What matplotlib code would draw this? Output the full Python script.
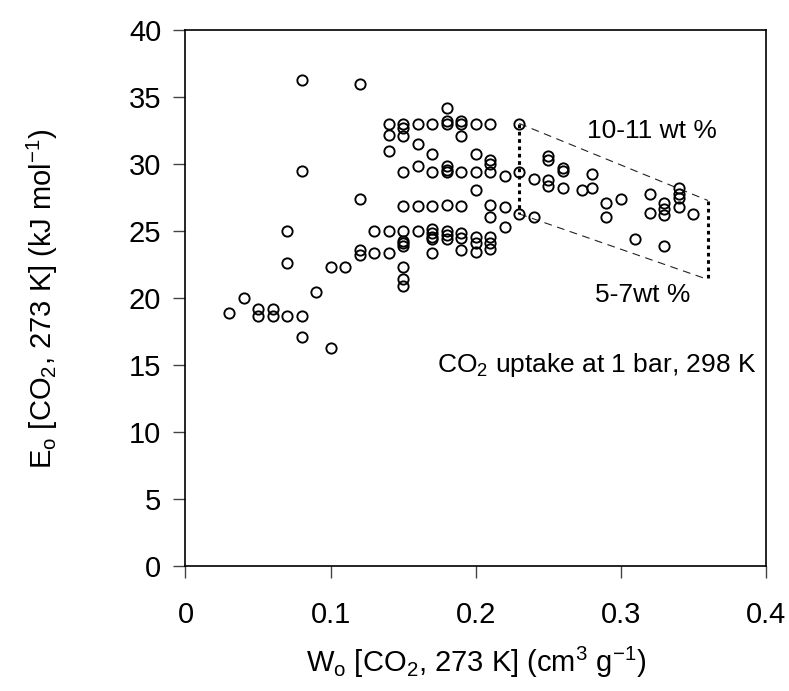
import matplotlib
matplotlib.use("Agg")
import matplotlib.pyplot as plt

plt.rcParams['font.family'] = ['Liberation Sans', 'DejaVu Sans']
plt.rcParams['mathtext.fontset'] = 'custom'
plt.rcParams['mathtext.rm'] = 'Liberation Sans'
plt.rcParams['mathtext.it'] = 'Liberation Sans:italic'

# W0 (cm3/g) and E0 (kJ/mol) pairs
w0 = [0.03, 0.04, 0.05, 0.05, 0.06, 0.06,
      0.07, 0.07, 0.07,
      0.08, 0.08, 0.08, 0.08,
      0.09, 0.10, 0.10, 0.11,
      0.12, 0.12, 0.12, 0.12,
      0.13, 0.13,
      0.14, 0.14, 0.14, 0.14, 0.14,
      0.15, 0.15, 0.15, 0.15, 0.15, 0.15, 0.15, 0.15, 0.15, 0.15, 0.15, 0.15,
      0.16, 0.16, 0.16, 0.16, 0.16,
      0.17, 0.17, 0.17, 0.17, 0.17, 0.17, 0.17, 0.17, 0.17,
      0.18, 0.18, 0.18, 0.18, 0.18, 0.18, 0.18, 0.18, 0.18, 0.18,
      0.19, 0.19, 0.19, 0.19, 0.19, 0.19, 0.19, 0.19,
      0.20, 0.20, 0.20, 0.20, 0.20, 0.20, 0.20,
      0.21, 0.21, 0.21, 0.21, 0.21, 0.21, 0.21, 0.21, 0.21,
      0.22, 0.22, 0.22,
      0.23, 0.23, 0.23,
      0.24, 0.24,
      0.25, 0.25, 0.25, 0.25,
      0.26, 0.26, 0.26,
      0.273,
      0.28, 0.28,
      0.29, 0.29,
      0.30, 0.31,
      0.32, 0.32,
      0.33, 0.33, 0.33, 0.33,
      0.34, 0.34, 0.34, 0.34,
      0.35]
e0 = [18.9, 20.0, 19.2, 18.7, 19.2, 18.7,
      25.0, 22.6, 18.7,
      36.3, 29.5, 18.7, 17.1,
      20.5, 22.3, 16.3, 22.3,
      36.0, 27.4, 23.6, 23.2,
      25.0, 23.4,
      33.05, 32.2, 31.0, 25.0, 23.4,
      33.05, 32.7, 32.1, 29.4, 26.9, 25.0, 24.3, 24.1, 23.9, 22.3, 21.4, 20.9,
      33.05, 31.5, 29.85, 26.9, 25.0,
      33.05, 30.8, 29.4, 26.9, 25.2, 24.9, 24.6, 24.4, 23.4,
      34.2, 33.25, 33.05, 29.9, 29.55, 29.4, 27.0, 25.05, 24.75, 24.4,
      33.25, 33.05, 32.1, 29.4, 26.9, 24.85, 24.5, 23.6,
      33.05, 30.8, 29.4, 28.05, 24.6, 24.15, 23.45,
      33.05, 30.3, 30.05, 29.4, 27.0, 26.1, 24.6, 24.1, 23.7,
      29.1, 26.8, 25.3,
      33.05, 29.4, 26.3,
      28.9, 26.1,
      30.6, 30.3, 28.8, 28.4,
      29.7, 29.5, 28.2,
      28.1,
      29.3, 28.25,
      27.1, 26.1,
      27.4, 24.4,
      27.8, 26.4,
      27.1, 26.7, 26.2, 23.9,
      28.2, 27.75, 27.45, 26.85,
      26.3]

# guide lines
upper_x = [0.23, 0.36]
upper_y = [33.05, 27.3]
lower_x = [0.23, 0.36]
lower_y = [26.3, 21.4]

x_ticks = [0, 0.1, 0.2, 0.3, 0.4]
x_tick_labels = ['0', '0.1', '0.2', '0.3', '0.4']
y_ticks = [0, 5, 10, 15, 20, 25, 30, 35, 40]

fig = plt.figure(figsize=(7.89, 6.91), dpi=100)
ax = fig.add_axes([0.2351, 0.1809, 0.9708 - 0.2351, 0.9559 - 0.1809])

ax.plot(upper_x, upper_y, color='#222222', lw=0.8, linestyle=(0, (7, 5)), zorder=1)
ax.plot(lower_x, lower_y, color='#222222', lw=0.8, linestyle=(0, (7, 5)), zorder=1)
ax.plot([upper_x[0], lower_x[0]], [upper_y[0], lower_y[0]], color='black', lw=2.2,
        linestyle=(0, (1.2, 1.2)), zorder=1)
ax.plot([upper_x[1], lower_x[1]], [upper_y[1], lower_y[1]], color='black', lw=2.2,
        linestyle=(0, (1.2, 1.2)), zorder=1)

ax.plot(w0, e0, linestyle='none', marker='o', ms=7.4, mfc='none', mec='black',
        mew=1.35, zorder=3)

ax.set_xlim(0, 0.4)
ax.set_ylim(0, 40)
ax.set_xticks(x_ticks)
ax.set_xticklabels(x_tick_labels)
ax.set_yticks(y_ticks)
ax.tick_params(direction='out', length=8.5, width=1.0, labelsize=21, color='#444444')
ax.tick_params(axis='x', pad=17)
ax.tick_params(axis='y', pad=9)
for s in ax.spines.values():
    s.set_linewidth(1.2)

ax.set_xlabel(r'W$_\mathregular{o}$ [CO$_\mathregular{2}$, 273 K] (cm$^\mathregular{3}$ g$^\mathregular{-1}$)',
              fontsize=21)
ax.set_ylabel(r'E$_\mathregular{o}$ [CO$_\mathregular{2}$, 273 K] (kJ mol$^\mathregular{-1}$)',
              fontsize=21)
ax.xaxis.set_label_coords(0.5, -(662 - 566) / 535.5)
ax.xaxis.label.set_va('center')
ax.yaxis.set_label_coords(-(185.5 - 42) / 580.5, 0.5)
ax.yaxis.label.set_va('center')

ax.text(0.2767, 32.0, '10-11 wt %', fontsize=19, va='baseline', ha='left')
ax.text(0.2824, 19.7, '5-7wt %', fontsize=19, va='baseline', ha='left')
ax.text(0.1734, 14.5, r'CO$_\mathregular{2}$ uptake at 1 bar, 298 K', fontsize=19,
        va='baseline', ha='left')

fig.savefig('out.png', dpi=100)
